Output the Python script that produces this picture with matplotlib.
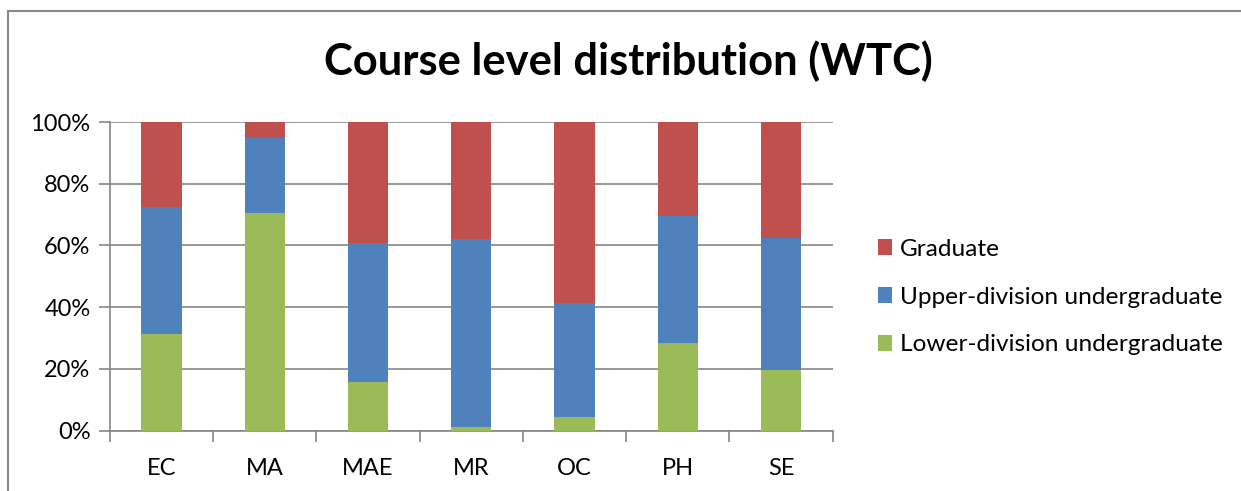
import matplotlib
matplotlib.use("Agg")
import matplotlib.pyplot as plt
from matplotlib.patches import Rectangle
import numpy as np

categories = ["EC", "MA", "MAE", "MR", "OC", "PH", "SE"]
lower = [31.2, 70.4, 15.7, 1.3, 4.3, 28.3, 19.7]
upper_cum = [72.4, 94.9, 60.7, 62.0, 41.3, 69.6, 62.3]
upper = [u - l for u, l in zip(upper_cum, lower)]
graduate = [100 - u for u in upper_cum]
yticks = [0, 20, 40, 60, 80, 100]
ytick_labels = ["0%", "20%", "40%", "60%", "80%", "100%"]

plt.rcParams['font.family'] = ['Lato', 'DejaVu Sans']

W, H = 1241, 491
fig = plt.figure(figsize=(W / 100, H / 100), dpi=100)
ax = fig.add_axes([110 / W, 1 - 430.7 / H, (832.7 - 110) / W, (430.7 - 122) / H])

red, blue, green = "#C0504D", "#4F81BD", "#9BBB59"
grid_c = "#868686"
x = np.arange(len(categories))
bw = 0.39
ax.bar(x, lower, bw, color=green, zorder=3, label="Lower-division undergraduate")
ax.bar(x, upper, bw, bottom=lower, color=blue, zorder=3, label="Upper-division undergraduate")
ax.bar(x, graduate, bw, bottom=upper_cum, color=red, zorder=3, label="Graduate")

ax.set_xlim(-0.5, len(categories) - 0.5)
ax.set_ylim(0, 100)
ax.set_yticks(yticks)
ax.set_yticklabels(ytick_labels, fontsize=17)
ax.yaxis.grid(True, color=grid_c, linewidth=1.2, zorder=0)
ax.set_axisbelow(True)

ax.set_xticks(np.arange(len(categories) + 1) - 0.5)
ax.set_xticklabels([])
ax.set_xticks(x, minor=True)
ax.set_xticklabels(categories, minor=True, fontsize=17)
ax.tick_params(axis='x', which='major', length=8, width=1.2, color=grid_c, direction='out')
ax.tick_params(axis='x', which='minor', length=0, pad=20)
ax.tick_params(axis='y', length=8, width=1.2, color=grid_c, pad=6)

for s in ["top", "right"]:
    ax.spines[s].set_visible(False)
for s in ["left", "bottom"]:
    ax.spines[s].set_color(grid_c)
    ax.spines[s].set_linewidth(1.2)

handles, labels = ax.get_legend_handles_labels()
leg = fig.legend(handles[::-1], labels[::-1], loc='center left',
                 bbox_to_anchor=(868 / W, 1 - 297 / H), frameon=False,
                 fontsize=17.6, handlelength=0.6, handleheight=0.6,
                 handletextpad=0.3, labelspacing=1.1, borderaxespad=0)

fig.text(628 / W, 1 - 61 / H, "Course level distribution (WTC)", ha='center', va='center',
         fontsize=31.3, fontweight='bold')

fig.patches.append(Rectangle((7.5 / W, -0.1), 2, 1 - 10.5 / H + 0.1, transform=fig.transFigure,
                             fill=False, edgecolor="#888888", linewidth=1.5))

fig.savefig("out.png", dpi=100)
